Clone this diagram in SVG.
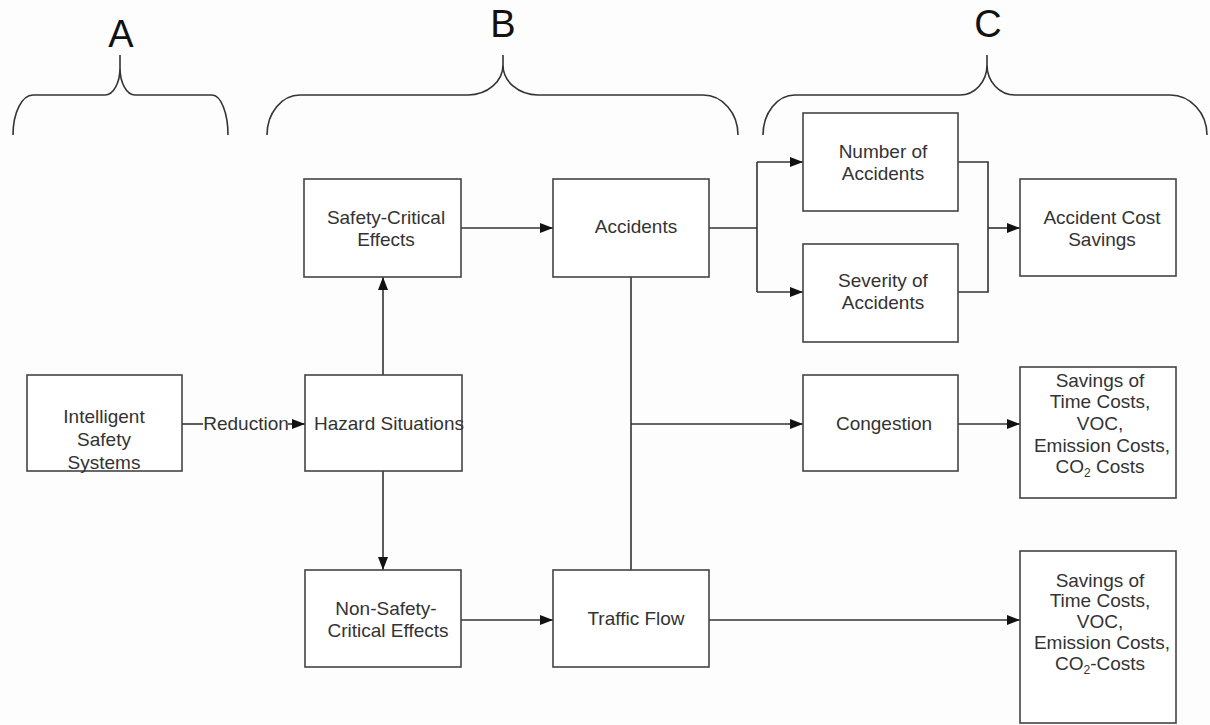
<svg xmlns="http://www.w3.org/2000/svg" width="1210" height="725" viewBox="0 0 1210 725">
<style>
.box{fill:#ffffff;stroke:#444;stroke-width:1.6}
.ln{fill:none;stroke:#333;stroke-width:1.6}
.br{fill:none;stroke:#333;stroke-width:1.6}
.t{font-family:"Liberation Sans",Arial,sans-serif;font-size:19px;fill:#333;text-anchor:middle}
.big{font-family:"Liberation Sans",Arial,sans-serif;font-size:38px;fill:#111;text-anchor:middle}
</style>
<defs>
<marker id="ah" markerUnits="userSpaceOnUse" markerWidth="14" markerHeight="12" refX="13" refY="5" orient="auto">
<path d="M0,0 L13,5 L0,10 z" fill="#111"/>
</marker>
</defs>
<rect width="1210" height="725" fill="#fdfdfd"/>
<g id="braces">
<text class="big" x="121" y="47">A</text>
<text class="big" x="503" y="37">B</text>
<text class="big" x="988" y="37">C</text>
<path class="br" d="M13,135 A20 40 0 0 1 33,95 H105 A15 27 0 0 0 120,68 V55 M120,68 A15 27 0 0 0 135,95 H212 A16 40 0 0 1 228,135"/>
<path class="br" d="M267,135 A33 40 0 0 1 300,95 H468 A35 30 0 0 0 503,65 V55 M503,65 A35 30 0 0 0 538,95 H703 A35 40 0 0 1 738,135"/>
<path class="br" d="M763,135 A32 40 0 0 1 795,95 H960 A27 30 0 0 0 987,65 V55 M987,65 A28 30 0 0 0 1015,95 H1170 A37 40 0 0 1 1207,135"/>
</g>
<g id="connectors">
<path class="ln" d="M182,424 H203"/>
<path class="ln" d="M288,424 H305" marker-end="url(#ah)"/>
<text class="t" x="246" y="430">Reduction</text>
<path class="ln" d="M383,375 V277" marker-end="url(#ah)"/>
<path class="ln" d="M383,471 V570" marker-end="url(#ah)"/>
<path class="ln" d="M461,228 H553" marker-end="url(#ah)"/>
<path class="ln" d="M461,620 H553" marker-end="url(#ah)"/>
<path class="ln" d="M631,277 V570"/>
<path class="ln" d="M631,424 H803" marker-end="url(#ah)"/>
<path class="ln" d="M709,228 H757 M757,162 V292"/>
<path class="ln" d="M757,162 H803" marker-end="url(#ah)"/>
<path class="ln" d="M757,292 H803" marker-end="url(#ah)"/>
<path class="ln" d="M958,162 H988 V292 H958"/>
<path class="ln" d="M988,228 H1020" marker-end="url(#ah)"/>
<path class="ln" d="M958,424 H1020" marker-end="url(#ah)"/>
<path class="ln" d="M709,620 H1020" marker-end="url(#ah)"/>
</g>
<g id="intelligent">
<rect class="box" x="27" y="375" width="155" height="96"/>
<text class="t" x="104" y="423">Intelligent</text>
<text class="t" x="104" y="446">Safety</text>
<text class="t" x="104" y="469">Systems</text>
</g>
<g id="hazard">
<rect class="box" x="305" y="375" width="157" height="96"/>
<text class="t" x="389" y="430">Hazard Situations</text>
</g>
<g id="safetycritical">
<rect class="box" x="304" y="179" width="157" height="98"/>
<text class="t" x="386" y="224">Safety-Critical</text>
<text class="t" x="386" y="246">Effects</text>
</g>
<g id="accidents">
<rect class="box" x="553" y="179" width="156" height="98"/>
<text class="t" x="636" y="233">Accidents</text>
</g>
<g id="nonsafety">
<rect class="box" x="305" y="570" width="156" height="97"/>
<text class="t" x="386" y="615">Non-Safety-</text>
<text class="t" x="388" y="637">Critical Effects</text>
</g>
<g id="trafficflow">
<rect class="box" x="553" y="570" width="156" height="97"/>
<text class="t" x="636" y="625">Traffic Flow</text>
</g>
<g id="number">
<rect class="box" x="803" y="113" width="155" height="98"/>
<text class="t" x="883" y="158">Number of</text>
<text class="t" x="883" y="180">Accidents</text>
</g>
<g id="severity">
<rect class="box" x="803" y="244" width="155" height="98"/>
<text class="t" x="883" y="287">Severity of</text>
<text class="t" x="883" y="309">Accidents</text>
</g>
<g id="accidentcost">
<rect class="box" x="1020" y="179" width="156" height="97"/>
<text class="t" x="1102" y="224">Accident Cost</text>
<text class="t" x="1102" y="246">Savings</text>
</g>
<g id="congestion">
<rect class="box" x="803" y="375" width="155" height="96"/>
<text class="t" x="884" y="430">Congestion</text>
</g>
<g id="savings1">
<rect class="box" x="1020" y="367" width="156" height="131"/>
<text class="t" x="1100" y="387">Savings of</text>
<text class="t" x="1100" y="408">Time Costs,</text>
<text class="t" x="1100" y="430">VOC,</text>
<text class="t" x="1102" y="452">Emission Costs,</text>
<text class="t" x="1100" y="473">CO<tspan font-size="12" dy="4">2</tspan><tspan dy="-4"> Costs</tspan></text>
</g>
<g id="savings2">
<rect class="box" x="1020" y="551" width="156" height="172"/>
<text class="t" x="1100" y="587">Savings of</text>
<text class="t" x="1100" y="607">Time Costs,</text>
<text class="t" x="1100" y="628">VOC,</text>
<text class="t" x="1102" y="649">Emission Costs,</text>
<text class="t" x="1100" y="670">CO<tspan font-size="12" dy="4">2</tspan><tspan dy="-4">-Costs</tspan></text>
</g>
</svg>
